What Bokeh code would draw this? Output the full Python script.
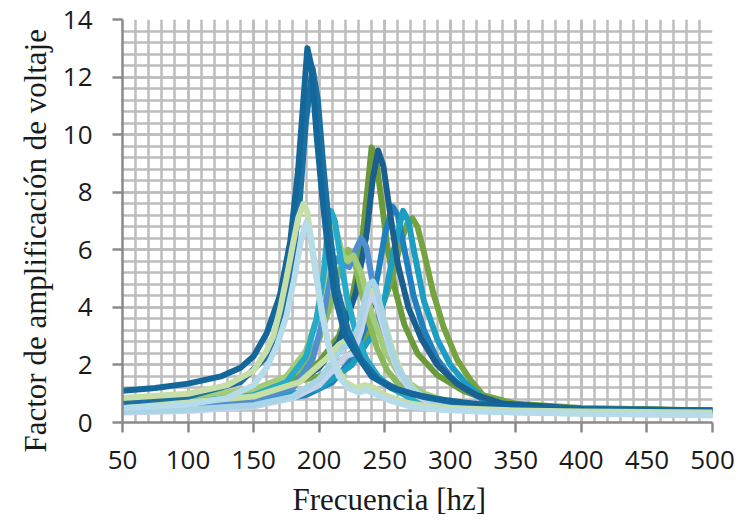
from bokeh.plotting import figure
from bokeh.models import SingleIntervalTicker, Range1d, Title
from bokeh.embed import file_html
from bokeh.resources import INLINE

# ---- data (frequency [hz], voltage amplification factor) ----
s01_x = [50, 75, 100, 125, 140, 150, 160, 170, 178, 184, 188, 191, 194, 198, 202, 206, 212, 220, 228, 240, 255, 270, 290, 310, 330, 360, 400, 450, 500]
s01_y = [1.1, 1.2, 1.35, 1.6, 1.9, 2.3, 3.1, 4.4, 6.3, 8.8, 11.2, 13.0, 12.4, 10.0, 8.0, 6.3, 4.4, 3.0, 2.4, 1.6, 1.2, 1.0, 0.82, 0.7, 0.6, 0.52, 0.47, 0.44, 0.42]
s02_x = [50, 100, 140, 160, 170, 178, 185, 190, 195, 199, 203, 208, 214, 222, 232, 245, 260, 280, 300, 325, 350, 400, 500]
s02_y = [0.7, 0.9, 1.4, 2.3, 3.3, 5.0, 7.6, 10.5, 12.3, 11.2, 9.0, 6.6, 4.6, 3.2, 2.2, 1.5, 1.15, 0.88, 0.72, 0.6, 0.52, 0.46, 0.4]
s03_x = [50, 100, 150, 180, 200, 215, 225, 232, 237, 240, 243, 247, 252, 258, 265, 275, 290, 310, 325, 350, 400, 500]
s03_y = [0.75, 0.85, 1.1, 1.5, 2.1, 3.0, 4.3, 6.0, 8.2, 9.55, 9.3, 7.9, 6.1, 4.6, 3.4, 2.4, 1.65, 1.1, 0.85, 0.6, 0.48, 0.42]
s04_x = [50, 100, 150, 180, 200, 215, 228, 236, 241, 245, 249, 254, 260, 268, 278, 290, 305, 320, 340, 400, 500]
s04_y = [0.55, 0.65, 0.9, 1.3, 1.9, 2.8, 4.5, 6.5, 8.5, 9.45, 8.9, 7.3, 5.5, 4.0, 2.9, 2.0, 1.35, 0.95, 0.65, 0.48, 0.42]
s05_x = [50, 100, 150, 190, 210, 225, 237, 245, 250, 256, 260, 265, 272, 280, 290, 300, 310, 325, 350, 400, 500]
s05_y = [0.45, 0.5, 0.65, 0.95, 1.4, 2.2, 3.5, 5.2, 6.5, 7.5, 7.2, 6.0, 4.4, 3.2, 2.2, 1.6, 1.2, 0.8, 0.55, 0.42, 0.38]
s06_x = [50, 100, 150, 200, 225, 240, 250, 257, 264, 268, 273, 280, 290, 300, 312, 325, 350, 400, 500]
s06_y = [0.5, 0.55, 0.7, 1.2, 2.0, 3.0, 4.3, 6.0, 7.35, 7.0, 5.8, 4.2, 2.9, 2.0, 1.35, 0.85, 0.55, 0.42, 0.36]
s07_x = [50, 100, 150, 200, 230, 245, 255, 262, 267, 271, 275, 280, 287, 295, 305, 315, 325, 350, 400, 500]
s07_y = [0.78, 0.88, 1.1, 1.6, 2.6, 3.7, 4.9, 6.2, 6.9, 7.1, 6.8, 5.9, 4.5, 3.3, 2.2, 1.5, 0.95, 0.65, 0.5, 0.42]
s08_x = [50, 100, 130, 150, 160, 165, 170, 175, 180, 184, 188, 191, 195, 200, 206, 212, 220, 228, 235, 242, 250, 265, 285, 300, 350, 400, 500]
s08_y = [0.85, 1.0, 1.3, 1.8, 2.5, 3.0, 3.9, 5.0, 6.2, 7.1, 7.6, 7.3, 5.9, 4.4, 2.9, 2.0, 1.4, 1.2, 1.3, 1.2, 0.95, 0.7, 0.55, 0.5, 0.42, 0.38, 0.35]
s09_x = [50, 100, 130, 150, 160, 168, 175, 181, 186, 190, 193, 197, 202, 208, 215, 222, 230, 236, 245, 255, 270, 290, 320, 400, 500]
s09_y = [0.5, 0.62, 0.85, 1.3, 1.9, 2.7, 3.7, 5.0, 6.3, 6.95, 6.6, 5.4, 3.8, 2.5, 1.6, 1.2, 1.05, 1.12, 0.95, 0.75, 0.55, 0.45, 0.38, 0.3, 0.25]
s10_x = [50, 100, 150, 175, 190, 198, 203, 206, 209, 212, 216, 221, 228, 236, 245, 255, 270, 290, 320, 400, 500]
s10_y = [0.6, 0.7, 0.95, 1.4, 2.3, 3.6, 5.0, 6.4, 7.35, 7.0, 5.8, 4.4, 3.1, 2.2, 1.6, 1.2, 0.85, 0.6, 0.45, 0.35, 0.3]
s11_x = [50, 100, 150, 175, 190, 198, 204, 208, 211, 214, 218, 222, 226, 232, 240, 250, 262, 280, 300, 350, 500]
s11_y = [0.8, 0.9, 1.15, 1.6, 2.5, 3.6, 5.0, 6.2, 6.8, 6.5, 5.8, 5.6, 5.8, 5.2, 3.8, 2.5, 1.6, 1.0, 0.7, 0.5, 0.4]
s12_x = [50, 100, 150, 180, 195, 203, 208, 213, 218, 223, 228, 232, 236, 241, 247, 255, 265, 280, 300, 350, 500]
s12_y = [0.45, 0.55, 0.75, 1.2, 2.2, 3.6, 5.0, 5.7, 5.5, 5.4, 6.0, 6.4, 6.1, 4.8, 3.4, 2.2, 1.4, 0.85, 0.6, 0.42, 0.33]
s13_x = [50, 100, 150, 185, 200, 208, 214, 218, 222, 226, 230, 236, 244, 252, 262, 275, 290, 320, 500]
s13_y = [0.7, 0.8, 1.05, 1.8, 2.9, 4.0, 5.0, 5.6, 6.0, 5.8, 5.0, 3.8, 2.6, 1.8, 1.25, 0.9, 0.65, 0.5, 0.38]
s14_x = [50, 100, 150, 185, 205, 215, 222, 228, 233, 237, 241, 245, 250, 256, 264, 275, 290, 310, 350, 500]
s14_y = [0.6, 0.7, 0.9, 1.4, 2.2, 2.7, 2.9, 3.0, 3.6, 4.3, 4.6, 4.3, 3.5, 2.5, 1.6, 1.0, 0.7, 0.55, 0.42, 0.33]
s15_x = [50, 100, 150, 180, 200, 210, 218, 224, 230, 235, 238, 241, 244, 248, 253, 260, 270, 285, 300, 350, 500]
s15_y = [0.38, 0.45, 0.6, 0.9, 1.5, 2.1, 2.6, 2.7, 3.3, 4.3, 4.8, 4.9, 4.6, 3.8, 2.8, 1.9, 1.2, 0.75, 0.55, 0.38, 0.28]
s16_x = [50, 100, 150, 180, 200, 212, 220, 226, 232, 236, 240, 244, 249, 255, 262, 272, 285, 300, 350, 500]
s16_y = [0.35, 0.4, 0.55, 0.85, 1.3, 1.9, 2.3, 2.4, 3.2, 4.0, 4.4, 4.1, 3.3, 2.4, 1.6, 1.0, 0.65, 0.5, 0.35, 0.25]

series = [
    (s03_x, s03_y, "#6b9a3b"),
    (s07_x, s07_y, "#74a33f"),
    (s05_x, s05_y, "#1f80c0"),
    (s06_x, s06_y, "#1c9dc2"),
    (s04_x, s04_y, "#1a5f8e"),
    (s13_x, s13_y, "#8bb85c"),
    (s12_x, s12_y, "#4f8fd0"),
    (s11_x, s11_y, "#a2cc78"),
    (s10_x, s10_y, "#25aac9"),
    (s14_x, s14_y, "#c5e0a2"),
    (s16_x, s16_y, "#c5d3ec"),
    (s15_x, s15_y, "#a9d4e6"),
    (s02_x, s02_y, "#1b70a1"),
    (s01_x, s01_y, "#13679a"),
    (s08_x, s08_y, "#c6dea8"),
    (s09_x, s09_y, "#b6dbea"),
]

x_ticks_interval = 50
y_ticks_interval = 2

p = figure(width=738, height=529, output_backend="svg", toolbar_location=None,
           x_range=Range1d(50, 500), y_range=Range1d(0, 14),
           min_border_left=122, min_border_right=26, min_border_top=19, min_border_bottom=107)
p.outline_line_color = None
p.background_fill_color = "white"
p.border_fill_color = "white"

for xs, ys, c in series:
    p.line(xs, ys, line_color=c, line_width=6, line_join="round", line_cap="round")

p.xaxis.ticker = SingleIntervalTicker(interval=x_ticks_interval, num_minor_ticks=5)
p.yaxis.ticker = SingleIntervalTicker(interval=y_ticks_interval, num_minor_ticks=5)

for g in (p.xgrid, p.ygrid):
    g.grid_line_color = "#bdbdbd"
    g.grid_line_width = 2.5
    g.minor_grid_line_color = "#bdbdbd"
    g.minor_grid_line_width = 2.5
    g.level = "underlay"

for ax in (p.xaxis, p.yaxis):
    ax.axis_line_color = "#8a8a8a"
    ax.axis_line_width = 2.5
    ax.major_tick_line_color = "#8a8a8a"
    ax.major_tick_line_width = 2.5
    ax.major_tick_out = 10
    ax.major_tick_in = 0
    ax.minor_tick_line_color = None
    ax.major_label_text_font = "Open Sans"
    ax.major_label_text_font_size = "26px"
    ax.major_label_text_color = "#1a1a1a"

p.yaxis.major_label_standoff = 20
p.xaxis.major_label_standoff = 18

p.add_layout(Title(text="Frecuencia [hz]", align="left", offset=170,
                   text_font="Liberation Serif", text_font_size="31px",
                   text_font_style="normal", text_color="#1a1a1a", standoff=16), "below")
p.add_layout(Title(text="Factor de amplificación de voltaje", align="left", offset=-30,
                   text_font="Liberation Serif", text_font_size="31px",
                   text_font_style="normal", text_color="#1a1a1a", standoff=14), "left")

open("out.html", "w").write(file_html(p, INLINE))
